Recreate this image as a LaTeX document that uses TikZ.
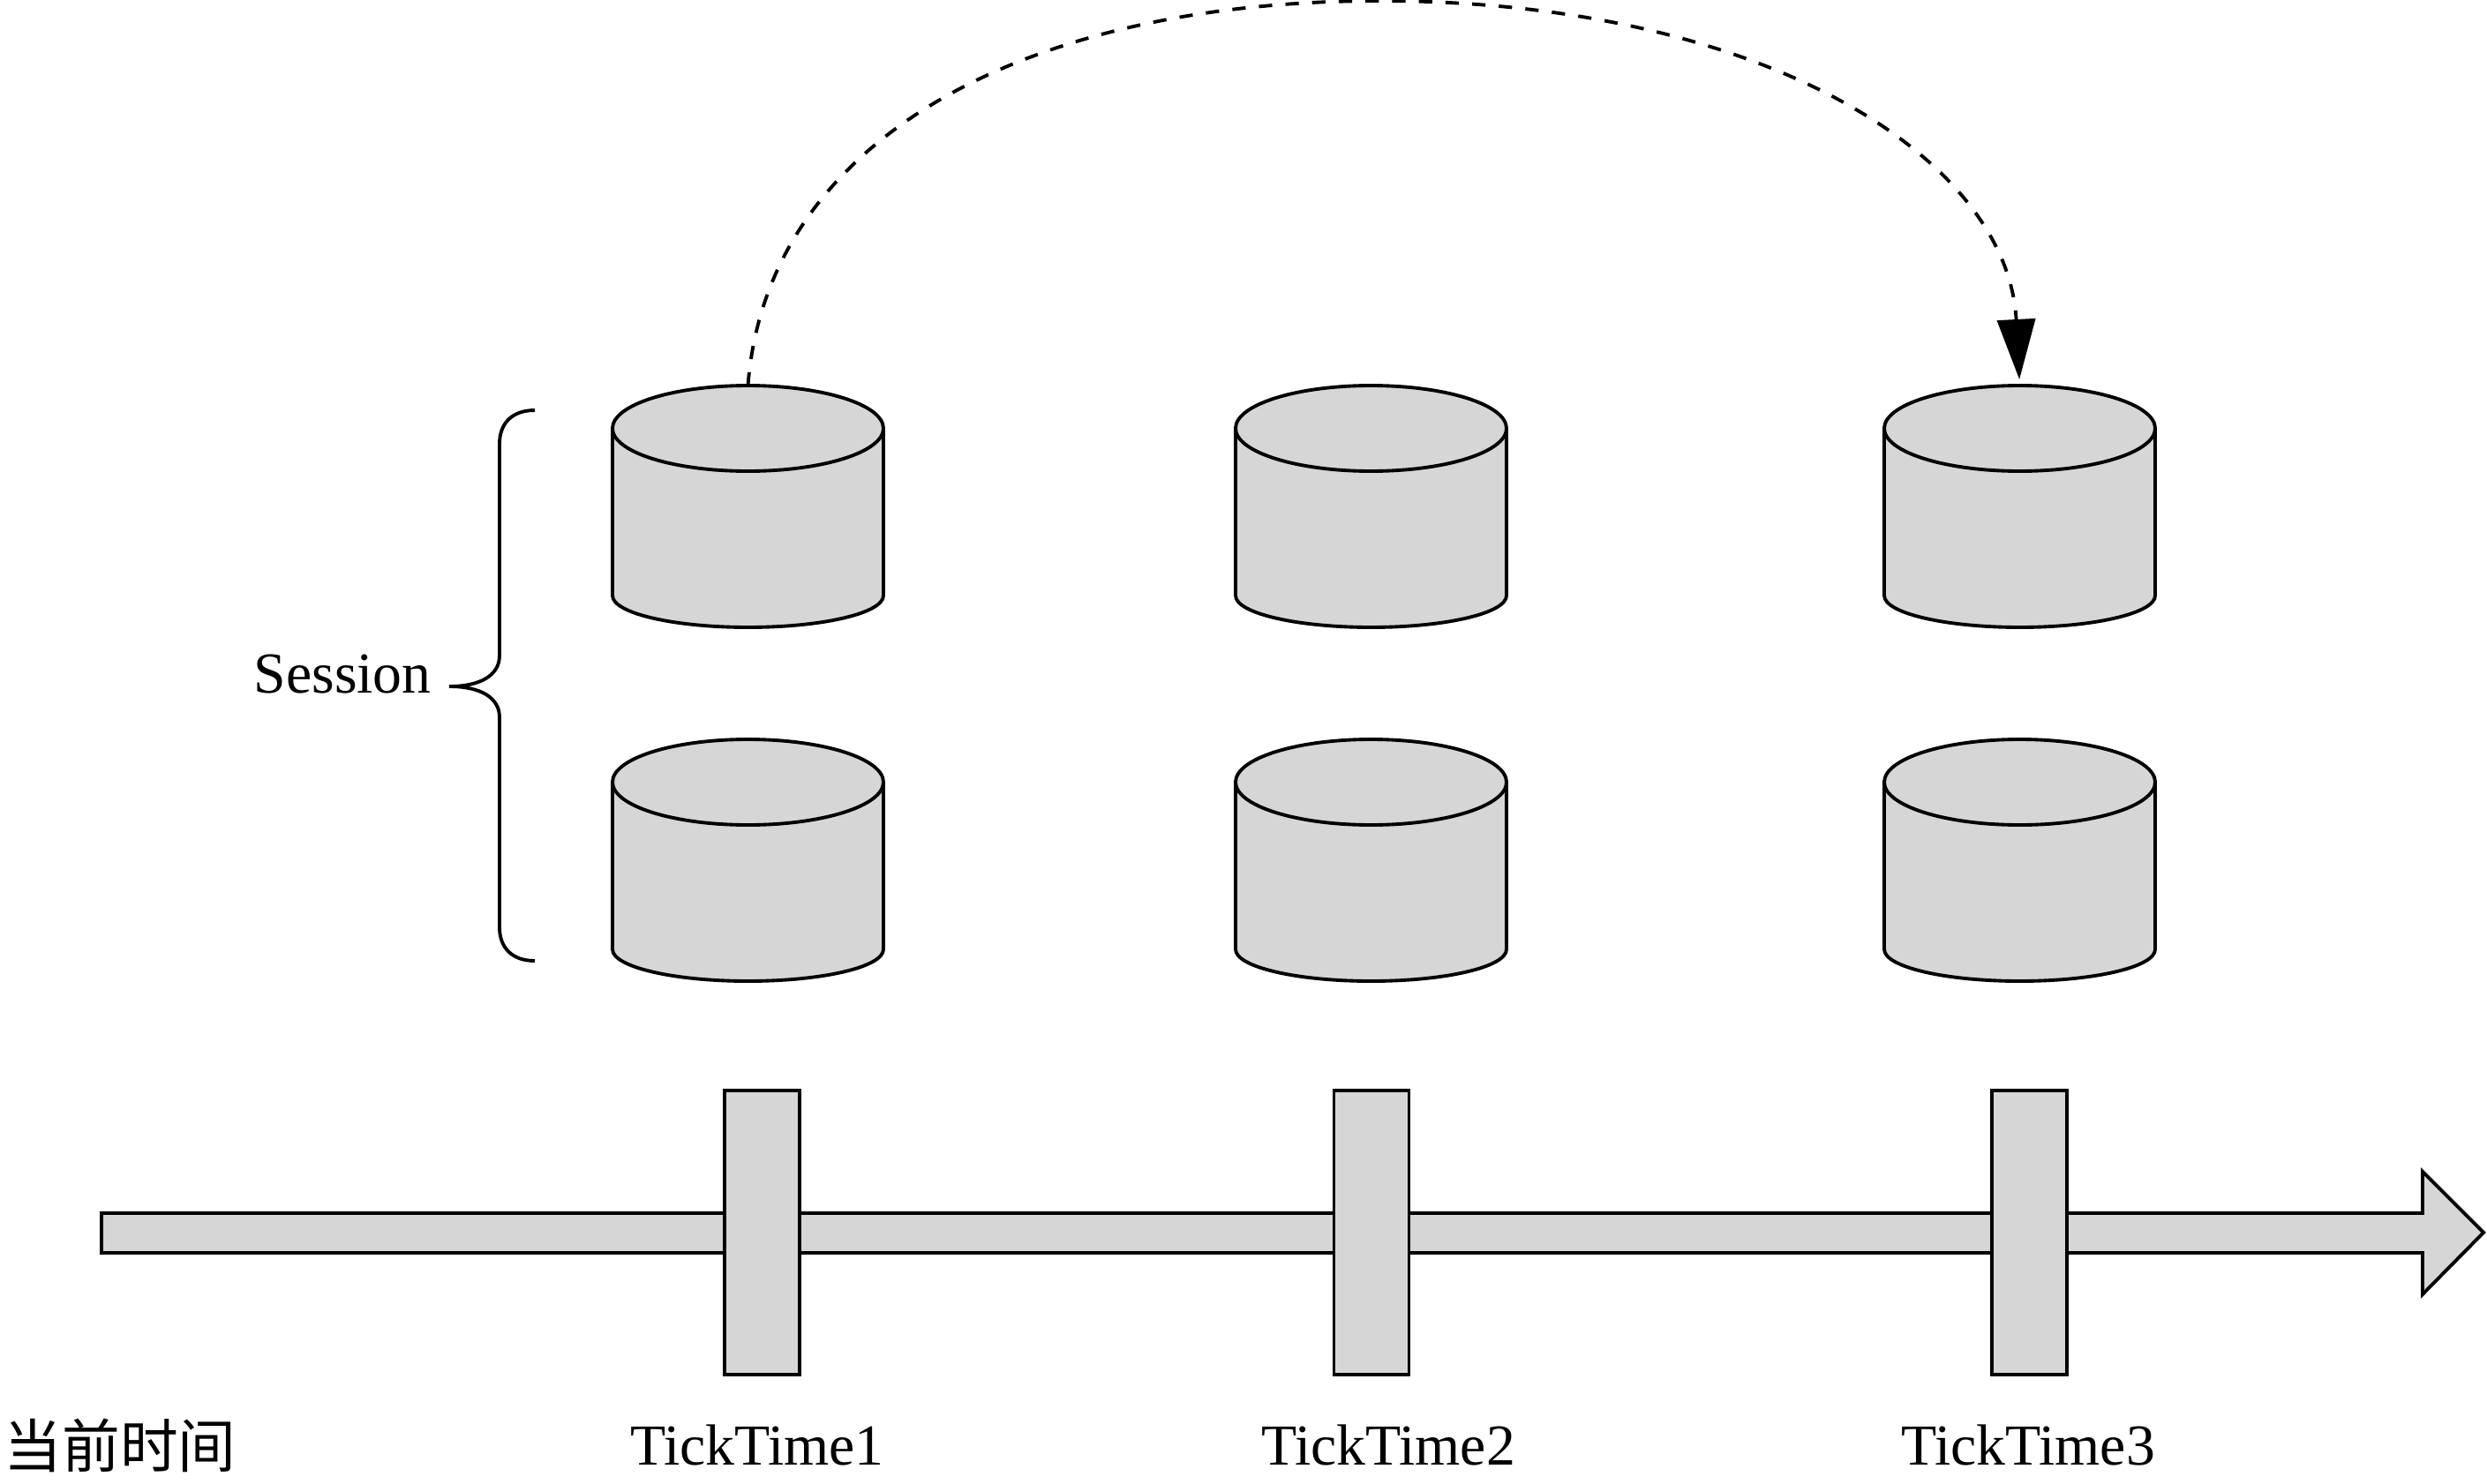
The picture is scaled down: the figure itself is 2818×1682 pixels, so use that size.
\documentclass[tikz,border=0pt]{standalone}
\usepackage{fontspec}
\setmainfont{Liberation Serif}
\newfontfamily\cjk{Noto Sans CJK SC}
\usetikzlibrary{arrows.meta}
\definecolor{shade}{HTML}{D6D6D6}
\tikzset{
  line/.style={line width=1.1pt},
  tick/.style={line, draw, fill=shade, minimum width=0.85cm, minimum height=3.22cm, inner sep=0pt},
  lbl/.style={font=\fontsize{18.7pt}{22pt}\selectfont, inner sep=0pt},
  drum/.pic={
    \filldraw[line, fill=shade] (-153.5,-88.5) -- (-153.5,101)
      arc[start angle=180, end angle=0, x radius=153.5, y radius=36] -- (153.5,-88.5) -- cycle;
    \filldraw[line, fill=shade] (0,-88.5) ellipse [x radius=153.5, y radius=48.5];
    \coordinate (-top) at (0,-137);
  }
}
\begin{document}
\begin{tikzpicture}[x=0.01cm,y=-0.01cm]
    \useasboundingbox (0,0) rectangle (2818,1682);

    % Define coordinates for the time axis
    \coordinate (A) at (115,1375);
    \coordinate (A1) at (2745,1375);
    \coordinate (A2) at (2745,1328);
    \coordinate (A3) at (2814,1397);
    \coordinate (A4) at (2745,1467);
    \coordinate (A5) at (2745,1420);
    \coordinate (A6) at (115,1420);

    % Draw the time axis
    \filldraw[line, fill=shade] (A) -- (A1) -- (A2) -- (A3) -- (A4) -- (A5) -- (A6) -- cycle;

    % Ticks on the axis
    \node[tick] (T1) at (863.5,1397) {};
    \node[tick] (T2) at (1554,1397) {};
    \node[tick] (T3) at (2299.5,1397) {};

    % Upper row of sessions
    \pic (C1) at (847.5,574) {drum};
    \pic (C2) at (1553.5,574) {drum};
    \pic (C3) at (2288.5,574) {drum};

    % Lower row of sessions
    \pic (D1) at (847.5,975) {drum};
    \pic (D2) at (1553.5,975) {drum};
    \pic (D3) at (2288.5,975) {drum};

    % Dashed move from the first to the third column
    \draw[line, dash pattern=on 4.3pt off 4.3pt, -{Triangle[length=0.68cm,width=0.43cm]}, shorten >=2pt]
      (C1-top) .. controls (869,157) and (1163,1) .. (1563,1)
      .. controls (2000,1) and (2275,180) .. (C3-top);

    % Brace for the session group
    \coordinate (B) at (606,465);
    \coordinate (B1) at (566,503);
    \coordinate (B2) at (566,743);
    \coordinate (B3) at (509,778);
    \coordinate (B4) at (566,813);
    \coordinate (B5) at (566,1051);
    \coordinate (B6) at (606,1089);
    \draw[line] (B) .. controls (580,465) and (566,480) .. (B1) -- (B2)
      .. controls (566,765) and (545,778) .. (B3)
      .. controls (545,778) and (566,791) .. (B4) -- (B5)
      .. controls (566,1074) and (580,1089) .. (B6);

    % Add labels
    \node[lbl, anchor=base west] (S) at (287,785) {Session};
    \node[lbl, anchor=base] (L1) at (858,1660) {TickTime1};
    \node[lbl, anchor=base] (L2) at (1573,1660) {TickTime2};
    \node[lbl, anchor=base] (L3) at (2298,1660) {TickTime3};
    \node[lbl, anchor=base west] (N) at (4,1663) {\cjk 当前时间};
\end{tikzpicture}
\end{document}
